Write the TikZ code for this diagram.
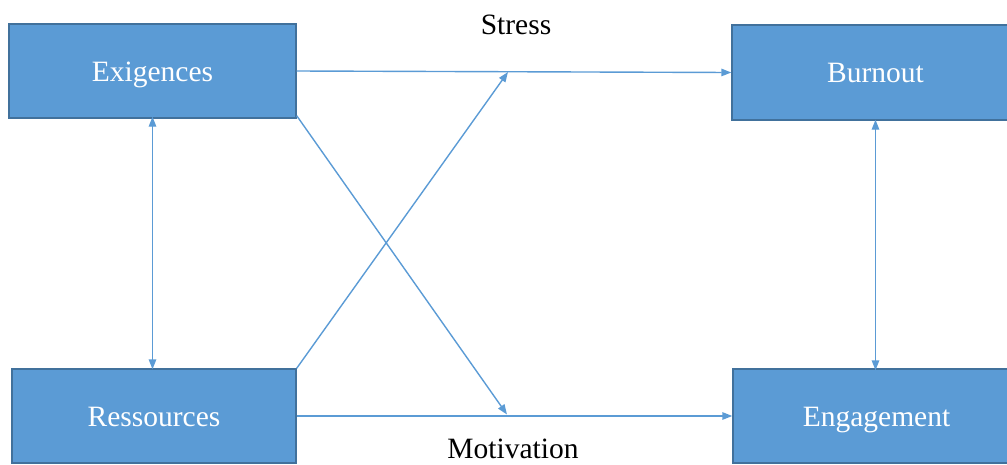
\documentclass[tikz,border=0pt]{standalone}
\usepackage{fontspec}
\setmainfont{Liberation Serif}
\usetikzlibrary{arrows.meta}
\definecolor{boxfill}{HTML}{5B9BD5}
\definecolor{boxline}{HTML}{41719C}
\definecolor{link}{HTML}{5B9BD5}
\begin{document}
\begin{tikzpicture}[x=1pt,y=-1pt,
  block/.style={rectangle, fill=boxfill, draw=boxline, line width=1.4pt,
    inner sep=0pt, text=white, text height=22pt, text depth=2pt,
    font=\fontsize{29.5}{33}\selectfont},
  label/.style={inner sep=0pt, anchor=base, font=\fontsize{29.5}{33}\selectfont},
  link/.style={draw=link, line width=1.4pt, -{Triangle[length=10pt,width=7.5pt]}},
  dlink/.style={draw=link, line width=1.4pt, {Triangle[length=10pt,width=7.5pt]}-{Triangle[length=10pt,width=7.5pt]}}]
\useasboundingbox (0,0) rectangle (1007,464);
% four boxes of the model
\node[block, minimum width=287pt, minimum height=94pt] (exig) at (152.5,71) {Exigences};
\node[block, minimum width=287pt, minimum height=95pt] (burn) at (875.5,72.5) {Burnout};
\node[block, minimum width=284pt, minimum height=94pt] (ress) at (154,416) {Ressources};
\node[block, minimum width=287pt, minimum height=94pt] (enga) at (876.5,416) {Engagement};
% path labels
\node[label] (stress) at (516,34) {Stress};
\node[label] (motiv) at (513,458) {Motivation};
% points where the crossing arrows meet the two paths
\coordinate (s) at (508,72);
\coordinate (m) at (507,414.5);
% connectors
\draw[link] (exig.east) -- (burn.west);
\draw[link] (ress.east) -- (enga.west);
\draw[link] (ress.north east) -- (s);
\draw[link] ([yshift=3pt]exig.south east) -- (m);
\draw[dlink] ([yshift=2pt]exig.south) -- ([yshift=-1pt]ress.north -| exig.south);
\draw[dlink] ([yshift=1pt]burn.south) -- ([yshift=-2pt]enga.north -| burn.south);
\end{tikzpicture}
\end{document}
